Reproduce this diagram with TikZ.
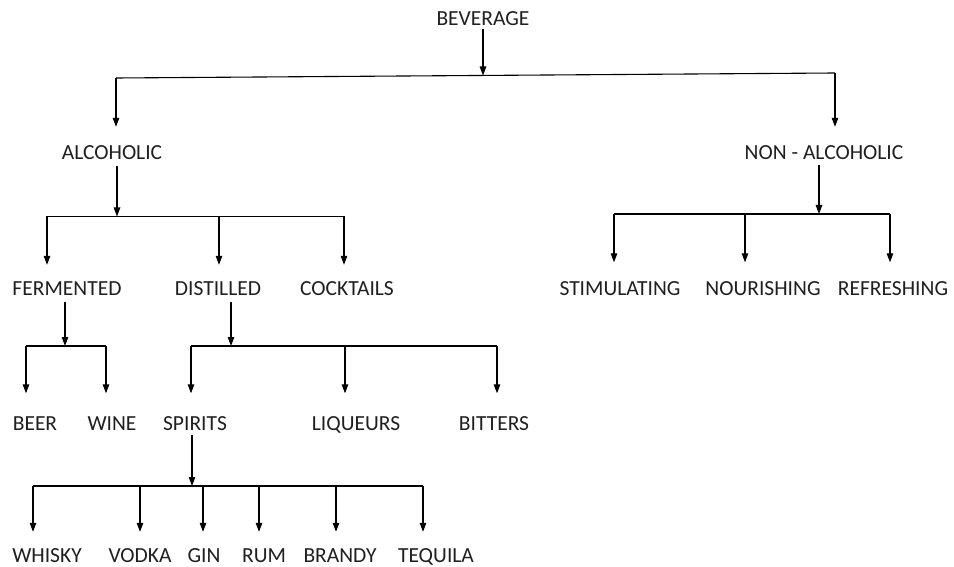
\documentclass[tikz,border=0pt]{standalone}
\usepackage{fontspec}
\setmainfont{Carlito}
\usetikzlibrary{arrows.meta,calc}
\begin{document}
\begin{tikzpicture}[x=1pt,y=-1pt,
  lbl/.style={inner sep=0pt,text height=14pt,text depth=0pt,font=\fontsize{21.5}{24}\selectfont,text=black!88},
  link/.style={line width=1.1pt,black},
  arr/.style={link,-{Triangle[length=9pt,width=6.5pt]}}]
\useasboundingbox (0,0) rectangle (954,567);
% nodes
\node[lbl] (bev) at (483,18.5) {BEVERAGE};
\node[lbl] (alc) at (112,153) {ALCOHOLIC};
\node[lbl] (non) at (824,153) {NON - ALCOHOLIC};
\node[lbl] (fer) at (67,288.5) {FERMENTED};
\node[lbl] (dis) at (218,288.5) {DISTILLED};
\node[lbl] (coc) at (347,288.5) {COCKTAILS};
\node[lbl] (sti) at (620,288.5) {STIMULATING};
\node[lbl] (nou) at (763,288.5) {NOURISHING};
\node[lbl] (ref) at (893,288.5) {REFRESHING};
\node[lbl] (beer) at (35,423.5) {BEER};
\node[lbl] (wine) at (112,423.5) {WINE};
\node[lbl] (spi) at (195,423.5) {SPIRITS};
\node[lbl] (liq) at (356,423.5) {LIQUEURS};
\node[lbl] (bit) at (494,423.5) {BITTERS};
\node[lbl] (whi) at (47,555.5) {WHISKY};
\node[lbl] (vod) at (140,555.5) {VODKA};
\node[lbl] (gin) at (204,555.5) {GIN};
\node[lbl] (rum) at (264,555.5) {RUM};
\node[lbl] (bra) at (340,555.5) {BRANDY};
\node[lbl] (teq) at (436,555.5) {TEQUILA};
% junction coordinates
\coordinate (j0) at (483,75.5);
\coordinate (j0a) at (116,78);
\coordinate (j0b) at (835,73);
\coordinate (j1) at (117,216.5);
\coordinate (j1a) at (47,216.5);
\coordinate (j1b) at (219,216.5);
\coordinate (j1c) at (344,216.5);
\coordinate (j2) at (819,214);
\coordinate (j2a) at (614,214);
\coordinate (j2b) at (745,214);
\coordinate (j2c) at (890,214);
\coordinate (j3) at (65,346);
\coordinate (j3a) at (26,346);
\coordinate (j3b) at (106,346);
\coordinate (j4) at (231,346);
\coordinate (j4a) at (191,346);
\coordinate (j4b) at (345,346);
\coordinate (j4c) at (497,346);
\coordinate (j5) at (192,486);
\coordinate (j5a) at (33,486);
\coordinate (j5b) at (140,486);
\coordinate (j5c) at (203,486);
\coordinate (j5d) at (259,486);
\coordinate (j5e) at (336,486);
\coordinate (j5f) at (423,486);
% BEVERAGE
\draw[arr] ($(j0 |- bev.south)+(0,3)$) -- (j0);
\draw[link] (j0a) -- (j0b);
\draw[arr] (j0a) -- ($(j0a |- alc.north)+(0,-19)$);
\draw[arr] (j0b) -- ($(j0b |- non.north)+(0,-19)$);
% ALCOHOLIC
\draw[arr] ($(j1 |- alc.south)+(0,6)$) -- (j1);
\draw[link] (j1a) -- (j1c);
\draw[arr] (j1a) -- ($(j1a |- fer.north)+(0,-16.5)$);
\draw[arr] (j1b) -- ($(j1b |- dis.north)+(0,-16.5)$);
\draw[arr] (j1c) -- ($(j1c |- coc.north)+(0,-16.5)$);
% NON-ALCOHOLIC
\draw[arr] ($(j2 |- non.south)+(0,5)$) -- (j2);
\draw[link] (j2a) -- (j2c);
\draw[arr] (j2a) -- ($(j2a |- sti.north)+(0,-19)$);
\draw[arr] (j2b) -- ($(j2b |- nou.north)+(0,-19)$);
\draw[arr] (j2c) -- ($(j2c |- ref.north)+(0,-19)$);
% FERMENTED
\draw[arr] ($(j3 |- fer.south)+(0,6)$) -- (j3);
\draw[link] (j3a) -- (j3b);
\draw[arr] (j3a) -- ($(j3a |- beer.north)+(0,-23)$);
\draw[arr] (j3b) -- ($(j3b |- wine.north)+(0,-23)$);
% DISTILLED
\draw[arr] ($(j4 |- dis.south)+(0,6)$) -- (j4);
\draw[link] (j4a) -- (j4c);
\draw[arr] (j4a) -- ($(j4a |- spi.north)+(0,-23)$);
\draw[arr] (j4b) -- ($(j4b |- liq.north)+(0,-23)$);
\draw[arr] (j4c) -- ($(j4c |- bit.north)+(0,-23)$);
% SPIRITS
\draw[arr] ($(j5 |- spi.south)+(0,4)$) -- (j5);
\draw[link] (j5a) -- (j5f);
\draw[arr] (j5a) -- ($(j5a |- whi.north)+(0,-16.5)$);
\draw[arr] (j5b) -- ($(j5b |- vod.north)+(0,-16.5)$);
\draw[arr] (j5c) -- ($(j5c |- gin.north)+(0,-16.5)$);
\draw[arr] (j5d) -- ($(j5d |- rum.north)+(0,-16.5)$);
\draw[arr] (j5e) -- ($(j5e |- bra.north)+(0,-16.5)$);
\draw[arr] (j5f) -- ($(j5f |- teq.north)+(0,-16.5)$);
\end{tikzpicture}
\end{document}
